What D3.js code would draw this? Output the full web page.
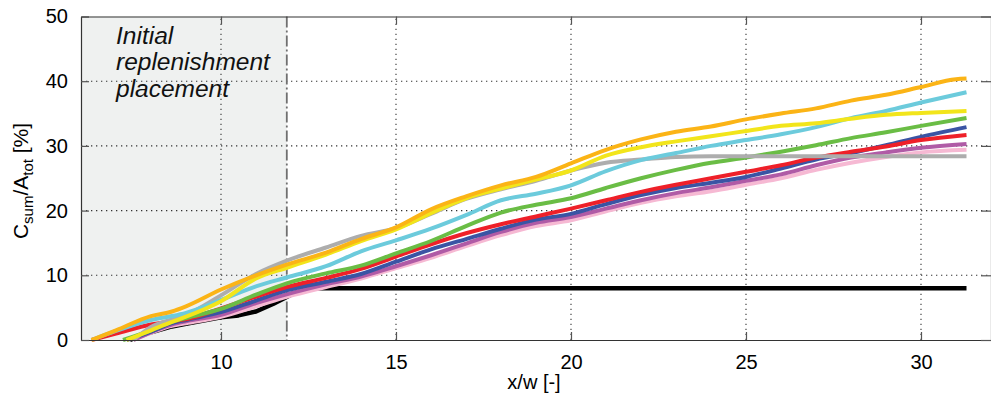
<!DOCTYPE html>
<html>
<head>
<meta charset="utf-8">
<script src="https://cdn.jsdelivr.net/npm/d3@7"></script>
<style>
  html, body { margin: 0; padding: 0; background: #fff; }
  svg { display: block; font-family: "Liberation Sans", Arial, sans-serif; }
</style>
</head>
<body>
<svg id="chart" width="991" height="400"></svg>
<script>
// ---- data ----
const xTicks = [10, 15, 20, 25, 30];
const yTicks = [0, 10, 20, 30, 40, 50];
const placementEnd = 11.88;

const blackX = [7.4, 8, 8.6, 9, 10, 10.5, 11, 11.5, 12.0, 12.5, 31.3];
const blackY = [0, 1.2, 2.1, 2.5, 3.5, 3.8, 4.4, 5.6, 7.0, 8.0, 8.0];

const pinkX = [7.5, 8.6, 9, 10, 11, 11.9, 13, 14, 15, 16, 17, 18, 19, 20, 21, 22, 23, 24, 25, 26, 27, 28, 29, 30, 31.3];
const pinkY = [0, 2.2, 2.6, 3.6, 5.2, 6.7, 8.2, 9.5, 11.1, 12.7, 14.5, 16.2, 17.6, 18.5, 19.9, 21.2, 22.2, 23.0, 24.0, 25.0, 26.3, 27.4, 28.3, 29.0, 29.4];

const purpleX = [7.5, 8.6, 9, 10, 11, 11.9, 13, 14, 15, 16, 17, 18, 19, 20, 21, 22, 23, 24, 25, 26, 27, 28, 29, 30, 31.3];
const purpleY = [0, 2.4, 2.9, 3.9, 5.7, 7.1, 8.6, 9.8, 11.4, 13.1, 14.9, 16.7, 18.1, 19.0, 20.3, 21.6, 22.7, 23.6, 24.6, 25.6, 27.0, 28.2, 29.0, 29.7, 30.3];

const blueX = [7.3, 8, 8.6, 9, 10, 11, 11.9, 13, 14, 15, 16, 17, 18, 19, 20, 21, 22, 23, 24, 25, 26, 27, 28, 29, 30, 31.3];
const blueY = [0, 1.3, 2.6, 3.1, 4.3, 6.1, 7.7, 9.0, 10.2, 12.1, 14.0, 15.6, 17.2, 18.6, 19.5, 21.0, 22.4, 23.5, 24.3, 25.2, 26.5, 27.9, 28.9, 30.1, 31.4, 32.9];

const redX = [6.3, 7, 8, 8.6, 9, 10, 11, 11.9, 13, 14, 15, 16, 17, 18, 19, 20, 21, 22, 23, 24, 25, 26, 27, 28, 29, 30, 31.3];
const redY = [0, 1.0, 2.4, 2.9, 3.2, 4.9, 6.7, 8.2, 9.6, 11.0, 12.9, 14.8, 16.5, 17.9, 19.1, 20.3, 21.6, 22.9, 24.0, 25.0, 26.0, 27.0, 28.2, 29.1, 29.9, 30.9, 31.7];

const greenX = [7.2, 8, 8.6, 9, 10, 11, 11.9, 13, 14, 15, 16, 17, 18, 19, 20, 21, 22, 23, 24, 25, 26, 27, 28, 29, 30, 31.3];
const greenY = [0, 1.5, 2.8, 3.4, 4.8, 7.0, 8.8, 10.3, 11.5, 13.4, 15.3, 17.6, 19.7, 20.9, 21.9, 23.5, 25.0, 26.3, 27.4, 28.2, 29.1, 30.1, 31.2, 32.1, 33.1, 34.3];

const grayX = [7.5, 8, 8.6, 9, 10, 11, 11.9, 13, 14, 15, 16, 17, 18, 19, 20, 21, 22, 23, 24, 25, 26, 27, 28, 29, 30, 31.3];
const grayY = [0, 2.0, 3.2, 3.9, 6.9, 10.2, 12.3, 14.3, 16.1, 17.3, 19.5, 21.8, 23.3, 24.6, 26.2, 27.4, 27.9, 28.3, 28.4, 28.4, 28.4, 28.4, 28.4, 28.4, 28.4, 28.4];

const cyanX = [6.3, 7, 8, 8.6, 9, 10, 11, 11.9, 13, 14, 15, 16, 17, 18, 19, 20, 21, 22, 23, 24, 25, 26, 27, 28, 29, 30, 31.3];
const cyanY = [0, 1.4, 3.1, 3.7, 4.2, 6.2, 8.3, 9.7, 11.4, 13.7, 15.4, 17.2, 19.3, 21.6, 22.6, 23.9, 26.1, 27.8, 28.9, 30.0, 30.9, 31.8, 32.9, 34.3, 35.4, 36.7, 38.3];

const yellowX = [7.3, 8, 8.6, 9, 10, 11, 11.9, 13, 14, 15, 16, 17, 18, 19, 20, 21, 22, 23, 24, 25, 26, 27, 28, 29, 30, 31.3];
const yellowY = [0, 1.5, 2.8, 3.6, 6.0, 9.5, 11.2, 13.2, 15.3, 17.1, 19.6, 21.9, 23.4, 24.8, 26.2, 28.5, 29.8, 30.7, 31.5, 32.3, 33.1, 33.5, 34.2, 34.8, 35.1, 35.4];

const orangeX = [6.3, 7, 8, 8.6, 9, 10, 11, 11.9, 13, 14, 15, 16, 17, 18, 19, 20, 21, 22, 23, 24, 25, 26, 27, 28, 29, 30, 31, 31.3];
const orangeY = [0, 1.5, 3.7, 4.4, 5.2, 7.8, 10.0, 11.7, 13.5, 15.6, 17.4, 20.2, 22.2, 23.9, 25.2, 27.3, 29.4, 31.0, 32.2, 33.0, 34.1, 35.0, 35.8, 37.0, 37.9, 39.1, 40.3, 40.4];

const seriesNames = ["black", "pink", "purple", "blue", "red", "green", "gray", "cyan", "yellow", "orange"];
const seriesX = [blackX, pinkX, purpleX, blueX, redX, greenX, grayX, cyanX, yellowX, orangeX];
const seriesY = [blackY, pinkY, purpleY, blueY, redY, greenY, grayY, cyanY, yellowY, orangeY];
const seriesColors = ["#000000", "#f6b9d3", "#b05ba6", "#3a54a4", "#ee2029", "#6abd45", "#adadad", "#6ccbdc", "#f2e51b", "#fbb416"];

// ---- layout ----
const svg = d3.select("#chart");
const L = 81, R = 991, T = 16.5, B = 340;
const x = d3.scaleLinear().domain([6, 32]).range([L, R]);
const y = d3.scaleLinear().domain([0, 50]).range([B, T]);

// shaded placement region
svg.append("rect")
  .attr("x", x(6)).attr("y", y(50))
  .attr("width", x(placementEnd) - x(6)).attr("height", y(0) - y(50))
  .attr("fill", "#eff1f0");

// grid
const grid = svg.append("g");
grid.selectAll("line.gx").data(xTicks).join("line")
  .attr("x1", d => x(d)).attr("x2", d => x(d))
  .attr("y1", y(0)).attr("y2", y(50))
  .attr("stroke", "#333").attr("stroke-width", 1.1).attr("stroke-dasharray", "1.3,3.7");
grid.selectAll("line.gy").data(yTicks.slice(1, 5)).join("line")
  .attr("x1", x(6)).attr("x2", x(32))
  .attr("y1", d => y(d)).attr("y2", d => y(d))
  .attr("stroke", "#333").attr("stroke-width", 1.1).attr("stroke-dasharray", "1.3,3.7");

// dash-dot placement boundary
svg.append("line")
  .attr("x1", x(placementEnd)).attr("x2", x(placementEnd))
  .attr("y1", y(50)).attr("y2", y(0))
  .attr("stroke", "#707070").attr("stroke-width", 1.8)
  .attr("stroke-dasharray", "11,3,2,3");

// series
const smooth = d3.line().x(d => x(d[0])).y(d => y(d[1])).curve(d3.curveMonotoneX);
const straight = d3.line().x(d => x(d[0])).y(d => y(d[1]));
seriesNames.forEach((name, i) => {
  const pts = seriesX[i].map((xv, j) => [xv, seriesY[i][j]]);
  svg.append("path")
    .datum(pts)
    .attr("class", "series " + name)
    .attr("d", name === "black" ? straight : smooth)
    .attr("fill", "none")
    .attr("stroke", seriesColors[i])
    .attr("stroke-width", name === "black" ? 4.5 : 4)
    .attr("stroke-linejoin", "round")
    .attr("stroke-linecap", "butt");
});

// axes (MATLAB-style box with inward ticks)
const xAxis = d3.axisBottom(x).tickValues(xTicks).tickSizeInner(-8).tickSizeOuter(0).tickPadding(15);
const gx = svg.append("g").attr("transform", `translate(0,${B})`).call(xAxis);
const yAxis = d3.axisLeft(y).tickValues(yTicks).tickSizeInner(-8).tickSizeOuter(0).tickPadding(13);
const gy = svg.append("g").attr("transform", `translate(${L},0)`).call(yAxis);
[gx, gy].forEach(g => {
  g.select(".domain").attr("stroke", "#333").attr("stroke-width", 1.2);
  g.selectAll(".tick line").attr("stroke", "#555").attr("stroke-width", 1.2);
  g.selectAll(".tick text").attr("fill", "#000").style("font-size", "20px")
    .style("font-family", "'Liberation Sans', Arial, sans-serif");
});
// top ticks and border
const xTop = d3.axisTop(x).tickValues(xTicks).tickSizeInner(-8).tickSizeOuter(0).tickFormat("");
const gt = svg.append("g").attr("transform", `translate(0,${T})`).call(xTop);
gt.select(".domain").attr("stroke", "#333").attr("stroke-width", 1.2);
gt.selectAll(".tick line").attr("stroke", "#555").attr("stroke-width", 1.2);
const yRight = d3.axisRight(y).tickValues(yTicks).tickSizeInner(-10).tickSizeOuter(0).tickFormat("");
const gr = svg.append("g").attr("transform", `translate(${R},0)`).call(yRight);
gr.select(".domain").attr("stroke", "#333").attr("stroke-width", 1.2);
gr.selectAll(".tick line").attr("stroke", "#555").attr("stroke-width", 1.2);

// axis labels
svg.append("text")
  .attr("x", (L + R) / 2 - 2).attr("y", 389)
  .attr("text-anchor", "middle")
  .style("font-size", "20px")
  .text("x/w [-]");

const yl = svg.append("text")
  .attr("transform", "translate(28,181) rotate(-90)")
  .attr("text-anchor", "middle")
  .style("font-size", "21px");
yl.append("tspan").text("C");
yl.append("tspan").attr("dy", 5).style("font-size", "15px").text("sum");
yl.append("tspan").attr("dy", -5).text("/A");
yl.append("tspan").attr("dy", 5).style("font-size", "15px").text("tot");
yl.append("tspan").attr("dy", -5).text(" [%]");

// annotation
const ann = ["Initial", "replenishment", "placement"];
svg.append("g").selectAll("text").data(ann).join("text")
  .attr("x", 116)
  .attr("y", (d, i) => 44 + i * 26.3)
  .style("font-size", "24.5px")
  .style("font-style", "italic")
  .attr("fill", "#111")
  .text(d => d);
</script>
</body>
</html>
